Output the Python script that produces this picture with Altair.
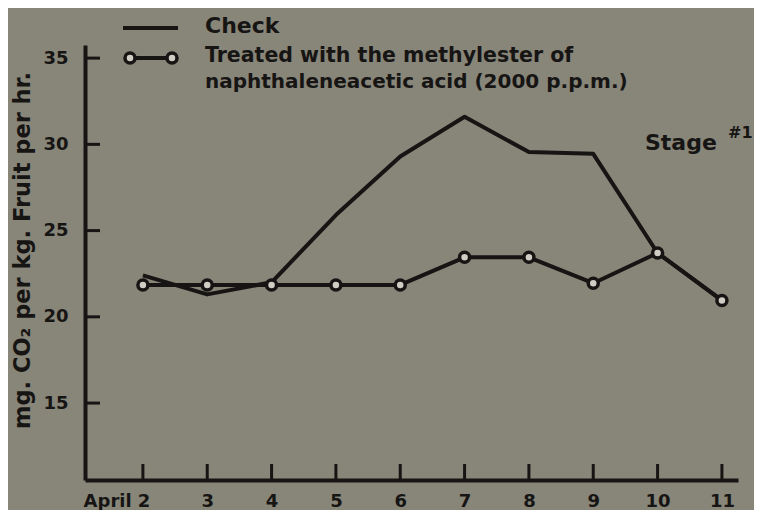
import altair as alt
import pandas as pd

# ---- data ----
days = [2, 3, 4, 5, 6, 7, 8, 9, 10, 11]
check = [22.4, 21.3, 22.0, 25.9, 29.3, 31.6, 29.55, 29.45, 23.7, 20.95]
treated = [21.85, 21.85, 21.85, 21.85, 21.85, 23.45, 23.45, 21.95, 23.7, 20.95]
y_ticks = [15, 20, 25, 30, 35]
legend_texts = ["Check", "Treated with the methylester of",
                "naphthaleneacetic acid (2000 p.p.m.)"]

INK = "#161514"
BG = "#888579"
FILL = "#cfcdc4"
FONT = "DejaVu Sans"
W, H = 653, 435

df = pd.DataFrame({"day": days, "check": check, "treated": treated})
xscale = alt.Scale(domain=[1.10, 11.25], nice=False, zero=False)
yscale = alt.Scale(domain=[10.54, 35.76], nice=False, zero=False)

xaxis = alt.Axis(values=days, domain=True, domainColor=INK, domainWidth=4,
                 ticks=False, grid=False, title=None,
                 labelExpr="datum.value == 2 ? 'April 2' : format(datum.value, 'd')",
                 labelAlign={"condition": {"test": "datum.value == 2", "value": "right"}, "value": "center"},
                 labelOffset={"condition": {"test": "datum.value == 2", "value": 7}, "value": 0},
                 labelFont=FONT, labelFontSize=18, labelFontWeight="bold",
                 labelColor=INK, labelPadding=12)
yaxis = alt.Axis(values=y_ticks, domain=True, domainColor=INK, domainWidth=4,
                 ticks=False, grid=False,
                 title="mg. CO₂ per kg. Fruit per hr.",
                 titleFont=FONT, titleFontSize=22.5, titleFontWeight="bold",
                 titleColor=INK, titleAngle=270, titleX=-63, titleY=205,
                 titleAlign="center", titleBaseline="middle",
                 labelFont=FONT, labelFontSize=18, labelFontWeight="bold",
                 labelColor=INK, labelPadding=17)

base = alt.Chart(df)
check_line = base.mark_line(color=INK, strokeWidth=4, strokeJoin="round").encode(
    x=alt.X("day:Q", scale=xscale, axis=xaxis),
    y=alt.Y("check:Q", scale=yscale, axis=yaxis))
treated_line = base.mark_line(color=INK, strokeWidth=4, strokeJoin="round").encode(
    x=alt.X("day:Q", scale=xscale), y=alt.Y("treated:Q", scale=yscale))
treated_pts = base.mark_point(shape="circle", size=100, fill=FILL, stroke=INK,
                              strokeWidth=3.5, opacity=1, filled=False).encode(
    x=alt.X("day:Q", scale=xscale), y=alt.Y("treated:Q", scale=yscale))

# axis tick marks drawn inward
xt = alt.Chart(pd.DataFrame({"day": days})).mark_rule(color=INK, strokeWidth=3).encode(
    x=alt.X("day:Q", scale=xscale), y=alt.value(H), y2=alt.value(H - 16))
yt = alt.Chart(pd.DataFrame({"v": y_ticks})).mark_rule(color=INK, strokeWidth=3).encode(
    y=alt.Y("v:Q", scale=yscale), x=alt.value(0), x2=alt.value(15))

# legend
leg_line = alt.Chart(pd.DataFrame({"k": [0]})).mark_rule(color=INK, strokeWidth=4).encode(
    x=alt.value(38), x2=alt.value(93), y=alt.value(-17))
leg_line2 = alt.Chart(pd.DataFrame({"k": [0]})).mark_rule(color=INK, strokeWidth=4).encode(
    x=alt.value(45), x2=alt.value(87), y=alt.value(13))
leg_pts = alt.Chart(pd.DataFrame({"px": [45, 87]})).mark_point(
    shape="circle", size=100, fill=FILL, stroke=INK, strokeWidth=3.5, opacity=1).encode(
    x=alt.X("px:Q", scale=None), y=alt.value(13))
leg_txt = alt.Chart(pd.DataFrame({"t": legend_texts, "py": [-19, 11, 37],
                                  "fs": [22, 20.5, 20]})).mark_text(
    align="left", baseline="middle", font=FONT, fontWeight="bold",
    color=INK).encode(text="t:N", x=alt.value(120), y=alt.Y("py:Q", scale=None),
                      size=alt.Size("fs:Q", scale=None, legend=None))

stage = alt.Chart(pd.DataFrame({"t": ["Stage"]})).mark_text(
    align="left", baseline="alphabetic", font=FONT, fontSize=22, fontWeight="bold",
    color=INK).encode(text="t:N", x=alt.value(560), y=alt.value(105))
stage_sup = alt.Chart(pd.DataFrame({"t": ["#1"]})).mark_text(
    align="left", baseline="alphabetic", font=FONT, fontSize=16, fontWeight="bold",
    color=INK).encode(text="t:N", x=alt.value(643), y=alt.value(93))

chart = alt.layer(check_line, treated_line, xt, yt, treated_pts,
                  leg_line, leg_line2, leg_pts, leg_txt, stage, stage_sup).properties(
    width=W, height=H,
    autosize=alt.AutoSizeParams(type="none"),
    padding={"left": 77, "top": 37, "right": 16, "bottom": 30},
).configure(background=BG).configure_view(stroke=None)

chart.save("out.html", embed_options={"renderer": "svg", "actions": False})
